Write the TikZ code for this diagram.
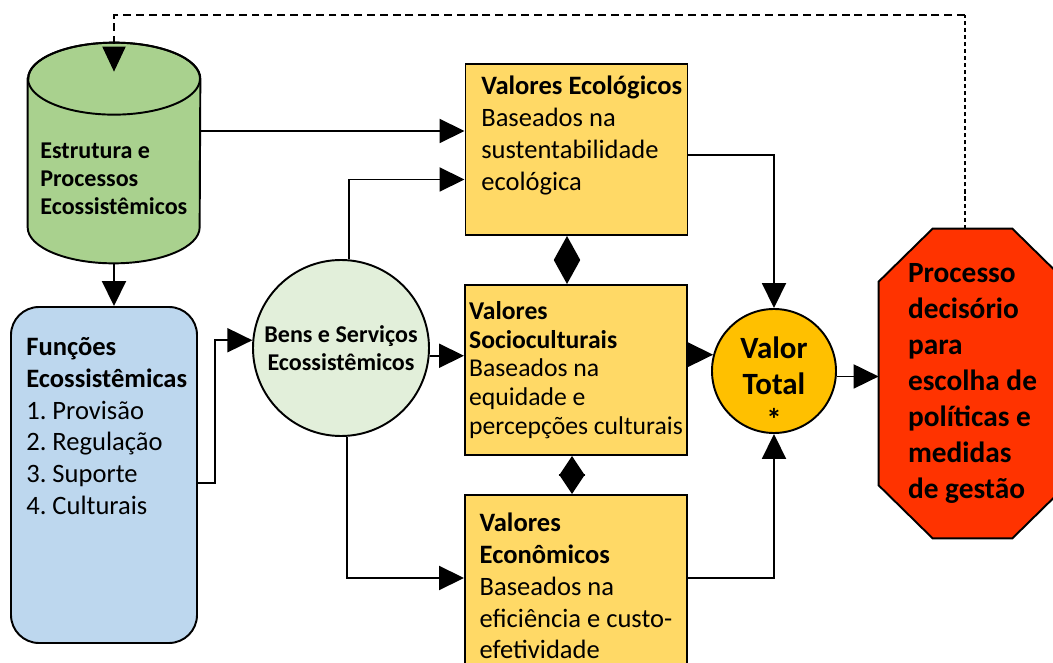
\documentclass[tikz,border=0pt]{standalone}
\usepackage{fontspec}
\setmainfont{Carlito}
\usepackage{tikz}
\usetikzlibrary{positioning, arrows.meta}
\definecolor{verde}{RGB}{169, 209, 142}
\definecolor{azul}{RGB}{189, 215, 238}
\definecolor{verdeclaro}{RGB}{226, 239, 218}
\definecolor{amarelo}{RGB}{255, 217, 102}
\definecolor{laranja}{RGB}{255, 192, 0}
\definecolor{vermelho}{RGB}{255, 51, 0}
\newcommand{\fpeq}{\fontsize{13.7pt}{15.9pt}\selectfont}
\newcommand{\fsoc}{\fontsize{14.6pt}{16.4pt}\selectfont}
\newcommand{\fmed}{\fontsize{15.1pt}{18.1pt}\selectfont}
\newcommand{\fgra}{\fontsize{16.7pt}{20.4pt}\selectfont}
\newcommand{\fvt}{\fontsize{17.6pt}{20.4pt}\selectfont}
\tikzset{
    vazio/.style={rectangle, inner sep=0pt},
    cil/.style={draw, fill=verde, line width=1.1pt},
    funcbox/.style={draw, rectangle, rounded corners=0.56cm, fill=azul, line width=1.1pt, minimum width=3.72cm, minimum height=6.72cm},
    caixa/.style={draw, rectangle, fill=amarelo, line width=1.1pt, minimum width=4.44cm, align=left},
    bola/.style={draw, circle, line width=1.1pt, align=center, inner sep=0pt},
    octo/.style={draw, fill=vermelho, line width=1.1pt},
    txt/.style={align=left, inner sep=0pt},
    conn/.style={line width=1.1pt, -{Triangle[length=0.5cm, width=0.48cm]}},
    dupla/.style={line width=1.1pt, {Triangle[length=0.48cm, width=0.52cm]}-{Triangle[length=0.48cm, width=0.52cm]}},
    retorno/.style={line width=1.1pt, dash pattern=on 4.5pt off 2.8pt, -{Triangle[length=0.5cm, width=0.46cm]}},
    retfino/.style={line width=0.6pt, dash pattern=on 2.3pt off 1.7pt},
}
\frenchspacing
\begin{document}
\begin{tikzpicture}
        \useasboundingbox (0,0) rectangle (21.06,13.24);
        \clip (0,0) rectangle (21.06,13.24);

        % cilindro
        \node[vazio, minimum width=3.44cm, minimum height=4.4cm] (estr) at (2.28, 10.18) {};
        \draw[cil] ([yshift=-0.72cm]estr.north west) -- ([yshift=0.72cm]estr.south west)
            arc[start angle=180, end angle=360, x radius=1.72cm, y radius=0.72cm]
            -- ([yshift=-0.72cm]estr.north east)
            arc[start angle=0, end angle=180, x radius=1.72cm, y radius=0.72cm] -- cycle;
        \draw[line width=1.1pt] ([yshift=-0.72cm]estr.north) ellipse[x radius=1.72cm, y radius=0.72cm];
        \node[txt, anchor=west, font=\fpeq\bfseries] (estrtxt) at (0.8, 9.66) {Estrutura e\\Processos\\Ecossistêmicos};

        \node[funcbox] (func) at (2.08, 3.74) { };
        \node[txt, anchor=west, font=\fmed] (functxt) at (0.52, 4.72) {\textbf{Funções}\\\textbf{Ecossistêmicas}\\1. Provisão\\2. Regulação\\3. Suporte\\4. Culturais};

        \node[bola, fill=verdeclaro, minimum size=3.52cm, font=\fpeq\bfseries] (bens) at (6.82, 6.28) {Bens e Serviços\\Ecossistêmicos};

        \node[caixa, minimum height=3.42cm] (eco) at (11.53, 10.25) { };
        \node[txt, anchor=west, font=\fmed] (ecotxt) at (9.62, 10.53) {\textbf{Valores Ecológicos}\\Baseados na\\sustentabilidade\\ecológica};

        \node[caixa, minimum height=3.4cm, inner xsep=1.5pt, font=\fsoc] (soc) at (11.52, 5.84) {\textbf{Valores}\\\textbf{Socioculturais}\\Baseados na\\equidade e\\percepções culturais};

        \node[caixa, minimum height=3.64cm, font=\fmed] (econ) at (11.52, 1.52) {\textbf{Valores}\\\textbf{Econômicos}\\Baseados na\\eficiência e custo-\\efetividade};

        \node[bola, fill=laranja, minimum size=2.48cm] (vt) at (15.48, 5.82) { };
        \node[txt, align=center, font=\fvt\bfseries] (vttxt) at ([yshift=-0.25cm]vt.center) {Valor\\Total\\*};

        % octogono
        \node[vazio, minimum width=3.74cm, minimum height=6.18cm] (proc) at (19.45, 5.57) {};
        \draw[octo] ([xshift=1.08cm]proc.north west) -- ([xshift=-1.08cm]proc.north east)
            -- ([yshift=-1.06cm]proc.north east) -- ([yshift=1.06cm]proc.south east)
            -- ([xshift=-1.08cm]proc.south east) -- ([xshift=1.08cm]proc.south west)
            -- ([yshift=1.06cm]proc.south west) -- ([yshift=-1.06cm]proc.north west) -- cycle;
        \node[txt, font=\fgra\bfseries] (proctxt) at (proc.center) {Processo\\decisório\\para\\escolha de\\políticas e\\medidas\\de gestão};

        \coordinate (ecoin1) at ([yshift=0.37cm]eco.west);
        \coordinate (ecoin2) at ([yshift=-0.6cm]eco.west);
        \coordinate (econin) at ([yshift=0.16cm]econ.west);
        \coordinate (d1) at ([xshift=-0.19cm]eco.south);
        \coordinate (d2) at ([xshift=-0.08cm]soc.south);
        \coordinate (fbtop) at (19.30, 12.94);

        \draw[conn] (estr.south) -- (estr.south |- func.north);
        \draw[conn] (estr.east |- ecoin1) -- (ecoin1);
        \draw[conn] ([yshift=-0.16cm]func.east) -- ++(0.34,0) |- (bens.175);
        \draw[conn] (bens.85) |- (ecoin2);
        \draw[conn] (bens.-5) -- (bens.-5 -| soc.west);
        \draw[conn] (bens.274) |- (econin);
        \draw[dupla] (d1) -- (d1 |- soc.north);
        \draw[dupla, {Triangle[length=0.4cm, width=0.52cm]}-{Triangle[length=0.4cm, width=0.52cm]}] (d2) -- (d2 |- econ.north);
        \draw[conn] ([yshift=-0.11cm]eco.east) -| (vt.north);
        \draw[conn] (soc.east |- vt.165) -- (vt.165);
        \draw[conn] ([yshift=0.16cm]econ.east) -| (vt.south);
        \draw[conn] (vt.-5) -- (vt.-5 -| proc.west);
        \draw[retfino] (proc.north -| fbtop) -- (fbtop);
        \draw[retorno] (fbtop) -| ([yshift=-0.58cm]estr.north);
\end{tikzpicture}
\end{document}
